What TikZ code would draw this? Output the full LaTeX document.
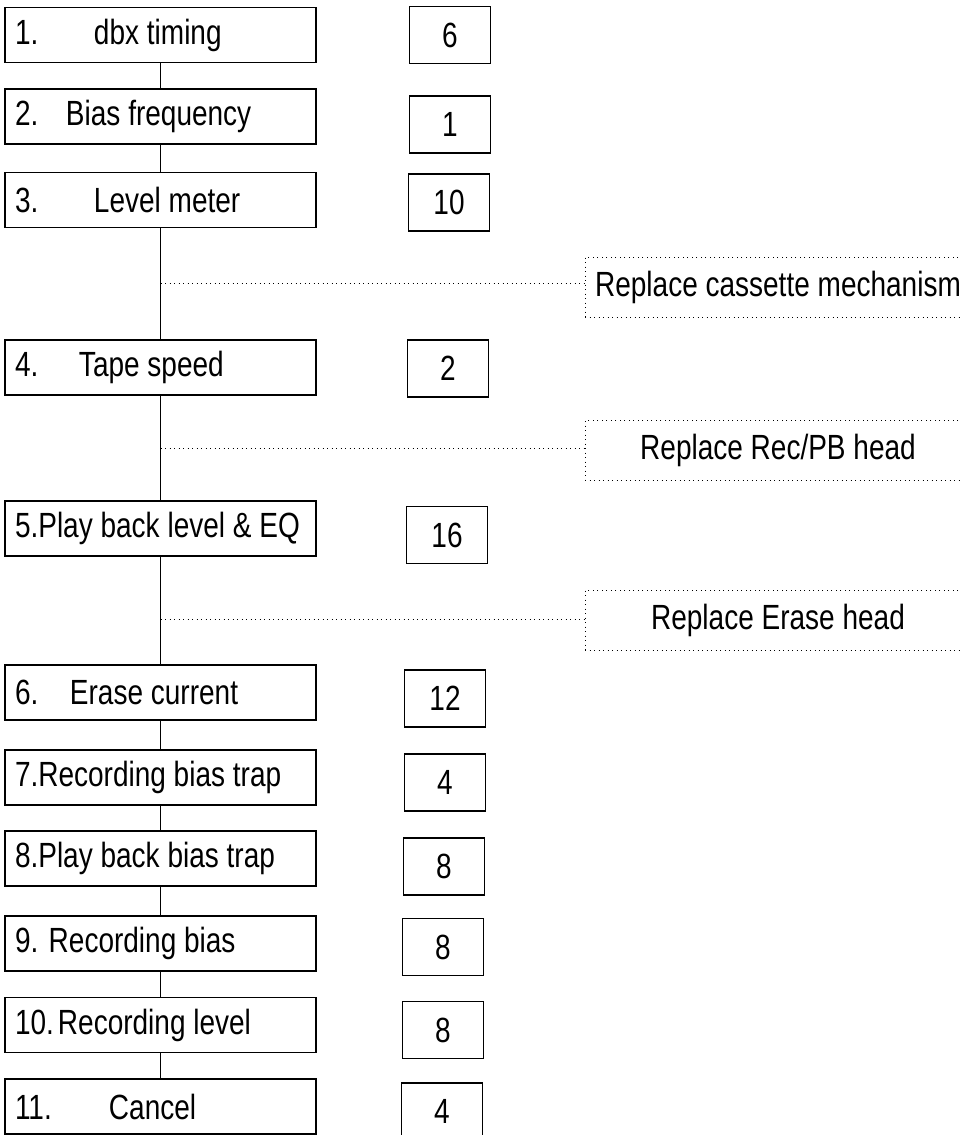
\documentclass[tikz,border=0pt]{standalone}
\usepackage{fontspec}
\setmainfont{Liberation Sans}[FakeStretch=0.8]
\usepackage{tikz}
\newcommand{\chartfont}{\fontsize{35}{40}\selectfont\spaceskip=7.8pt plus 2pt minus 1pt\relax}

\begin{document}
\begin{tikzpicture}[x=1pt, y=-1pt, every node/.style={font=\chartfont},
	stepbox/.style={draw, line width=1.6pt, minimum width=311pt, minimum height=55pt, text width=291pt, inner xsep=10pt, align=flush left},
	countbox/.style={draw, line width=1.6pt, minimum width=81pt, minimum height=57pt},
	partbox/.style={draw, line width=0.9pt, dash pattern=on 0.9pt off 3.6pt, minimum width=386pt, minimum height=60pt},
	link/.style={line width=1.4pt},
	hint/.style={line width=0.9pt, dash pattern=on 0.9pt off 3.6pt}]
	\useasboundingbox (0,0) rectangle (961,1135);
	% adjustment steps
	\node[stepbox] (s1) at (160.5,35) {\makebox[79pt][l]{1.}dbx timing};
	\node[stepbox] (s2) at (160.5,116.5) {\makebox[51pt][l]{2.}Bias frequency};
	\node[stepbox] (s3) at (160.5,200) {\makebox[79pt][l]{3.}Level meter};
	\node[stepbox] (s4) at (160.5,367.5) {\makebox[64pt][l]{4.}Tape speed};
	\node[stepbox] (s5) at (160.5,528.5) {5.Play back level \& EQ};
	\node[stepbox] (s6) at (160.5,692.5) {\makebox[55pt][l]{6.}Erase current};
	\node[stepbox] (s7) at (160.5,777.5) {7.Recording bias trap};
	\node[stepbox] (s8) at (160.5,858.5) {8.Play back bias trap};
	\node[stepbox] (s9) at (160.5,943.5) {9. Recording bias};
	\node[stepbox] (s10) at (160.5,1025) {\makebox[43pt][l]{10.}Recording level};
	\node[stepbox] (s11) at (160.5,1106.5) {\makebox[94pt][l]{11.}Cancel};
	% counts
	\node[countbox] (n1) at (450,35) {6};
	\node[countbox] (n2) at (450,124.5) {1};
	\node[countbox] (n3) at (449,202.5) {10};
	\node[countbox] (n4) at (448,368.5) {2};
	\node[countbox] (n5) at (447,535) {16};
	\node[countbox] (n6) at (445,698.5) {12};
	\node[countbox] (n7) at (445,782.5) {4};
	\node[countbox] (n8) at (444,866.5) {8};
	\node[countbox] (n9) at (443,947) {8};
	\node[countbox] (n10) at (443,1030) {8};
	\node[countbox] (n11) at (442,1111.5) {4};
	% replacements
	\node[partbox] (r1) at (778,287) {Replace cassette mechanism};
	\node[partbox] (r2) at (778,450.5) {Replace Rec/PB head};
	\node[partbox] (r3) at (778,620) {Replace Erase head};
	% flow
	\draw[link] (s1) -- (s2);
	\draw[link] (s2) -- (s3);
	\draw[link] (s3) -- coordinate (j1) (s4);
	\draw[link] (s4) -- coordinate (j2) (s5);
	\draw[link] (s5) -- coordinate[pos=0.58] (j3) (s6);
	\draw[link] (s6) -- (s7);
	\draw[link] (s7) -- (s8);
	\draw[link] (s8) -- (s9);
	\draw[link] (s9) -- (s10);
	\draw[link] (s10) -- (s11);
	\draw[hint] (j1) -- (j1 -| r1.west);
	\draw[hint] (j2) -- (j2 -| r2.west);
	\draw[hint] (j3) -- (j3 -| r3.west);
\end{tikzpicture}
\end{document}
